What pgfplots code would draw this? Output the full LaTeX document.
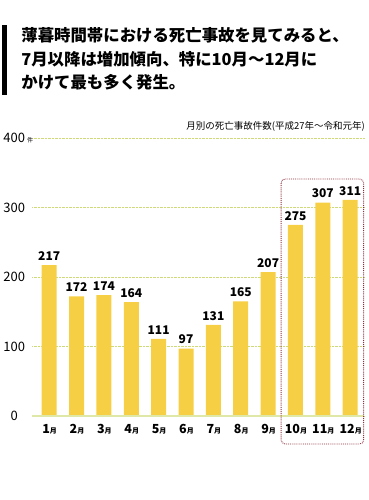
\documentclass[border=0pt]{standalone}
\usepackage{pgfplots}
\pgfplotsset{compat=1.18}
\usepackage{fontspec}
\setmainfont{Noto Sans CJK JP}
\definecolor{barcol}{HTML}{F6CF45}
\definecolor{gridcol}{HTML}{CFD97A}
\definecolor{basecol}{HTML}{E0E8A8}
\definecolor{boxcol}{HTML}{8E2F3C}
\begin{document}
\begin{tikzpicture}
\path (0pt,0pt) rectangle (366pt,-500pt);
\fill[black] (0pt,-25pt) rectangle (5pt,-95pt);
\node[anchor=west,inner sep=0,font=\fontsize{16.4}{18}\selectfont\bfseries] at (19pt,-35.5pt) {薄暮時間帯における死亡事故を見てみると、};
\node[anchor=west,inner sep=0,font=\fontsize{16.4}{18}\selectfont\bfseries] at (19pt,-59.5pt) {7月以降は増加傾向、特に10月～12月に};
\node[anchor=west,inner sep=0,font=\fontsize{16.4}{18}\selectfont\bfseries] at (19pt,-82.5pt) {かけて最も多く発生。};
\node[anchor=east,inner sep=0,font=\fontsize{9.5}{11}\selectfont] at (363pt,-126pt) {月別の死亡事故件数(平成27年～令和元年)};
\begin{axis}[
  at={(30pt,-416pt)}, anchor=south west,
  scale only axis, width=332pt, height=278pt,
  xmin=0.378, xmax=12.51, ymin=0, ymax=400,
  /pgf/number format/assume math mode=true,
  axis line style={draw=none},
  major tick length=0pt,
  ytick={0,100,200,300,400},
  yticklabels={0,100,200,300,{400\rlap{\,\fontsize{6}{7}\selectfont 件}}},
  yticklabel style={anchor=center, xshift=-18pt, font=\fontsize{13}{15}\selectfont},
  xtick={1,...,12},
  xticklabels={1,2,3,4,5,6,7,8,9,10,11,12},
  xticklabel={\textbf{\pgfmathprintnumber{\tick}}\rlap{\fontsize{7}{8}\selectfont\bfseries 月}},
  xticklabel style={font=\fontsize{12.5}{14}\selectfont, anchor=center, yshift=-13pt, xshift=-3pt},
  ymajorgrids, grid style={gridcol, densely dotted, line width=0.8pt},
  clip=false,
]
\addplot[ybar, bar width=15pt, fill=barcol, draw=none,
  nodes near coords, nodes near coords style={font=\fontsize{12}{14}\selectfont\bfseries, yshift=1pt}]
  coordinates {(1,217) (2,172) (3,174) (4,164) (5,111) (6,97) (7,131) (8,165) (9,207) (10,275) (11,307) (12,311)};
\draw[basecol, line width=1.2pt] (axis cs:0.378,0) -- (axis cs:12.51,0);
\end{axis}
\draw[boxcol, densely dotted, line width=0.9pt, rounded corners=4pt] (279pt,-179pt) rectangle (361.5pt,-444pt);
\end{tikzpicture}
\end{document}
